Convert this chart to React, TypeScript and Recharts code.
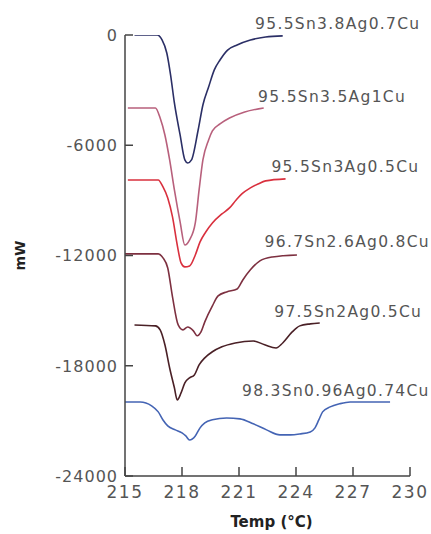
import React from "react";
import { LineChart, Line, XAxis, YAxis, ReferenceDot } from "recharts";

// temperature (°C) and heat flow (mW)
const sac387 = [
  { t: 215.5, v: 0 }, { t: 216.7, v: 0 }, { t: 216.95, v: -270 }, { t: 217.2, v: -980 },
  { t: 217.4, v: -2180 }, { t: 217.6, v: -3700 }, { t: 217.9, v: -5440 }, { t: 218.15, v: -6800 },
  { t: 218.3, v: -6970 }, { t: 218.5, v: -6800 }, { t: 218.85, v: -5170 }, { t: 219.1, v: -3810 },
  { t: 219.4, v: -2830 }, { t: 219.7, v: -1900 }, { t: 220.0, v: -1360 }, { t: 220.4, v: -820 },
  { t: 220.9, v: -540 }, { t: 221.6, v: -270 }, { t: 222.4, v: -110 }, { t: 223.3, v: -50 },
];

const sac3510 = [
  { t: 215.15, v: -3970 }, { t: 216.6, v: -3970 }, { t: 216.85, v: -4520 }, { t: 217.1, v: -5440 },
  { t: 217.35, v: -6800 }, { t: 217.6, v: -8430 }, { t: 217.9, v: -10170 }, { t: 218.15, v: -11430 },
  { t: 218.4, v: -11150 }, { t: 218.7, v: -10230 }, { t: 218.9, v: -8430 }, { t: 219.1, v: -6800 },
  { t: 219.4, v: -5710 }, { t: 219.6, v: -5220 }, { t: 220.0, v: -4840 }, { t: 220.5, v: -4520 },
  { t: 221.3, v: -4190 }, { t: 222.3, v: -3970 },
];

const sac305 = [
  { t: 215.15, v: -7890 }, { t: 216.75, v: -7890 }, { t: 217.0, v: -8270 }, { t: 217.25, v: -8870 },
  { t: 217.5, v: -9900 }, { t: 217.75, v: -11430 }, { t: 217.95, v: -12400 }, { t: 218.15, v: -12620 },
  { t: 218.4, v: -12570 }, { t: 218.7, v: -11970 }, { t: 218.95, v: -11260 }, { t: 219.25, v: -10720 },
  { t: 219.6, v: -10230 }, { t: 220.1, v: -9740 }, { t: 220.5, v: -9410 }, { t: 220.85, v: -8980 },
  { t: 221.15, v: -8650 }, { t: 221.6, v: -8320 }, { t: 222.0, v: -8110 }, { t: 222.4, v: -7940 },
  { t: 223.45, v: -7830 },
];

const sac2608 = [
  { t: 215.0, v: -11910 }, { t: 216.75, v: -11910 }, { t: 217.0, v: -12130 }, { t: 217.25, v: -12680 },
  { t: 217.5, v: -14250 }, { t: 217.8, v: -15780 }, { t: 218.05, v: -16050 }, { t: 218.3, v: -15890 },
  { t: 218.6, v: -16100 }, { t: 218.8, v: -16370 }, { t: 219.0, v: -16160 }, { t: 219.2, v: -15610 },
  { t: 219.6, v: -14740 }, { t: 219.9, v: -14200 }, { t: 220.35, v: -13980 }, { t: 220.9, v: -13820 },
  { t: 221.2, v: -13330 }, { t: 221.6, v: -12780 }, { t: 222.1, v: -12290 }, { t: 222.75, v: -12080 },
  { t: 224.05, v: -11970 },
];

const sac205 = [
  { t: 215.5, v: -15780 }, { t: 216.6, v: -15830 }, { t: 216.85, v: -16050 }, { t: 217.1, v: -16860 },
  { t: 217.35, v: -18120 }, { t: 217.6, v: -19200 }, { t: 217.75, v: -19860 }, { t: 217.95, v: -19480 },
  { t: 218.15, v: -18930 }, { t: 218.4, v: -18660 }, { t: 218.65, v: -18500 }, { t: 218.9, v: -17950 },
  { t: 219.2, v: -17570 }, { t: 219.6, v: -17240 }, { t: 220.1, v: -16970 }, { t: 220.8, v: -16760 },
  { t: 221.75, v: -16650 }, { t: 222.35, v: -16860 }, { t: 222.95, v: -17030 }, { t: 223.3, v: -16760 },
  { t: 223.8, v: -16160 }, { t: 224.2, v: -15830 }, { t: 224.75, v: -15720 }, { t: 225.25, v: -15670 },
];

const sac0974 = [
  { t: 215.0, v: -19970 }, { t: 215.8, v: -19970 }, { t: 216.4, v: -20180 }, { t: 216.75, v: -20510 },
  { t: 217.0, v: -20950 }, { t: 217.25, v: -21270 }, { t: 217.65, v: -21490 }, { t: 218.0, v: -21650 },
  { t: 218.2, v: -21820 }, { t: 218.4, v: -22040 }, { t: 218.7, v: -21820 }, { t: 218.95, v: -21380 },
  { t: 219.2, v: -21110 }, { t: 219.6, v: -20940 }, { t: 220.35, v: -20840 }, { t: 221.05, v: -20890 },
  { t: 221.75, v: -21160 }, { t: 222.45, v: -21490 }, { t: 223.15, v: -21760 }, { t: 223.7, v: -21760 },
  { t: 224.2, v: -21710 }, { t: 224.75, v: -21600 }, { t: 225.0, v: -21380 }, { t: 225.2, v: -20950 },
  { t: 225.4, v: -20510 }, { t: 225.8, v: -20240 }, { t: 226.3, v: -20070 }, { t: 226.85, v: -19970 },
  { t: 228.95, v: -19970 },
];

const xTicks = [215, 218, 221, 224, 227, 230];
const yTicks = [0, -6000, -12000, -18000, -24000];

const series = [
  { name: "95.5Sn3.8Ag0.7Cu", data: sac387, color: "#2b2f66", labelT: 226.2, labelV: 650 },
  { name: "95.5Sn3.5Ag1Cu", data: sac3510, color: "#b8607c", labelT: 225.9, labelV: -3370 },
  { name: "95.5Sn3Ag0.5Cu", data: sac305, color: "#d9303e", labelT: 226.6, labelV: -7180 },
  { name: "96.7Sn2.6Ag0.8Cu", data: sac2608, color: "#7d3040", labelT: 226.7, labelV: -11260 },
  { name: "97.5Sn2Ag0.5Cu", data: sac205, color: "#4a2026", labelT: 226.75, labelV: -15070 },
  { name: "98.3Sn0.96Ag0.74Cu", data: sac0974, color: "#4464b4", labelT: 226.1, labelV: -19320 },
];

const font = "'DejaVu Sans', sans-serif";
const axisColor = "#444";

// ticks point inward, into the plot
const XTick = ({ x, y, payload }: any) => (
  <g>
    <line x1={x} y1={y} x2={x} y2={y - 9} stroke={axisColor} strokeWidth={1.5} />
    <text x={x} y={y + 22} textAnchor="middle" fill="#555" fontSize={17} fontFamily={font} letterSpacing={1.5}>
      {payload.value}
    </text>
  </g>
);

const YTick = ({ x, y, payload }: any) => (
  <g>
    <line x1={x} y1={y} x2={x + 8} y2={y} stroke={axisColor} strokeWidth={1.5} />
    <text x={x - 7} y={y} dy="0.36em" textAnchor="end" fill="#555" fontSize={16} fontFamily={font} letterSpacing={1}>
      {payload.value}
    </text>
  </g>
);

export default function App() {
  return (
    <div style={{ position: "absolute", left: 0, top: 0, background: "#fff" }}>
      <LineChart width={431} height={534} margin={{ top: 35, right: 21, bottom: 0, left: 0 }}>
        <XAxis
          dataKey="t"
          type="number"
          domain={[215, 230]}
          ticks={xTicks}
          allowDataOverflow
          height={58}
          tickSize={0}
          tickMargin={0}
          tickLine={false}
          axisLine={{ stroke: axisColor, strokeWidth: 1.5 }}
          tick={<XTick />}
          label={{
            value: "Temp (°C)",
            position: "insideBottom",
            offset: 7,
            dx: 4,
            style: { fill: "#222", fontSize: 15, fontWeight: "bold", fontFamily: font },
          }}
        />
        <YAxis
          type="number"
          domain={[-24000, 0]}
          ticks={yTicks}
          allowDataOverflow
          width={125}
          tickSize={0}
          tickMargin={0}
          tickLine={false}
          axisLine={{ stroke: axisColor, strokeWidth: 1.5 }}
          tick={<YTick />}
          label={{
            value: "mW",
            angle: -90,
            position: "insideLeft",
            offset: 20,
            style: { fill: "#222", fontSize: 14, fontWeight: "bold", fontFamily: font, textAnchor: "middle" },
          }}
        />
        {series.map((s) => (
          <Line
            key={s.name}
            data={s.data}
            dataKey="v"
            type="monotone"
            stroke={s.color}
            strokeWidth={1.6}
            dot={false}
            isAnimationActive={false}
          />
        ))}
        {series.map((s) => (
          <ReferenceDot
            key={"lbl-" + s.name}
            x={s.labelT}
            y={s.labelV}
            r={0}
            ifOverflow="visible"
            label={{
              value: s.name,
              position: "center",
              style: { fill: "#555", fontSize: 15.5, fontFamily: font, letterSpacing: 1.3 },
            }}
          />
        ))}
      </LineChart>
    </div>
  );
}
